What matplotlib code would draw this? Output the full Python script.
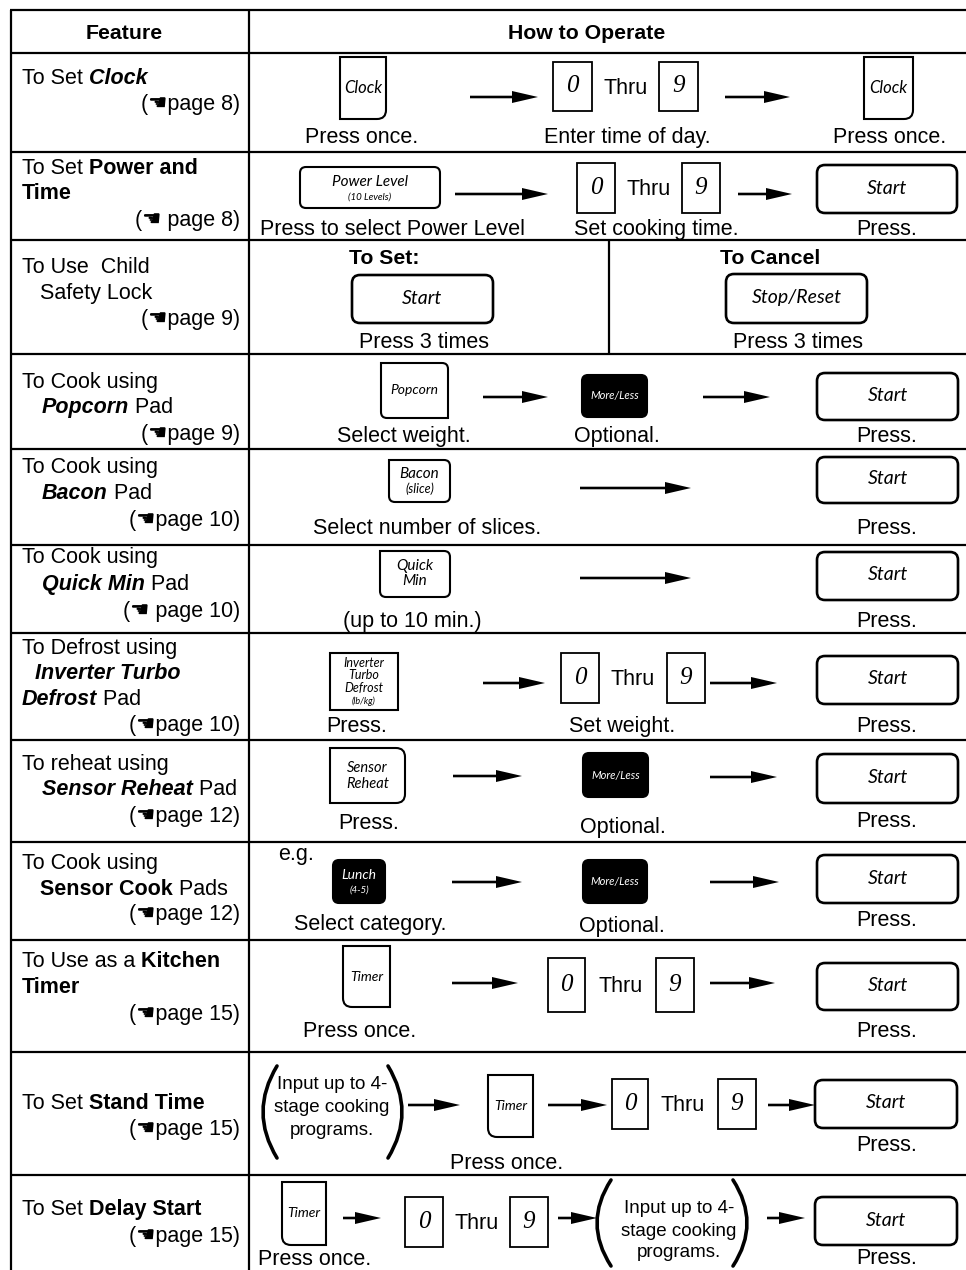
import matplotlib
matplotlib.use('Agg')
import matplotlib.pyplot as plt
from matplotlib.patches import PathPatch
from matplotlib.path import Path

plt.rcParams['font.family'] = ['Liberation Sans', 'DejaVu Sans']

# ---- table content ----
HEADERS = ['Feature', 'How to Operate']

# each feature: lines, each line a list of (text, style) pieces; b = bold, i = italic
FEATURES = [
    [[('To Set', ''), (' Clock', 'bi')]],
    [[('To Set', ''), (' Power and', 'b')], [('Time', 'b')]],
    [[('To Use  Child', '')], [('Safety Lock', '')]],
    [[('To Cook using', '')], [('Popcorn', 'bi'), (' Pad', '')]],
    [[('To Cook using', '')], [('Bacon', 'bi'), (' Pad', '')]],
    [[('To Cook using', '')], [('Quick Min', 'bi'), (' Pad', '')]],
    [[('To Defrost using', '')], [('Inverter Turbo', 'bi')], [('Defrost', 'bi'), (' Pad', '')]],
    [[('To reheat using', '')], [('Sensor Reheat', 'bi'), (' Pad', '')]],
    [[('To Cook using', '')], [('Sensor Cook', 'b'), (' Pads', '')]],
    [[('To Use as a', ''), (' Kitchen', 'b')], [('Timer', 'b')]],
    [[('To Set', ''), (' Stand Time', 'b')]],
    [[('To Set', ''), (' Delay Start', 'b')]],
]
PAGES = ['page 8', ' page 8', 'page 9', 'page 9', 'page 10', ' page 10',
         'page 10', 'page 12', 'page 12', 'page 15', 'page 15', 'page 15']
HAND = '\u261a'

DIGITS = ['0', '9']
THRU = 'Thru'
START = 'Start'
MORE_LESS = 'More/Less'
CLOCK = 'Clock'
TIMER = 'Timer'
POWER = ['Power Level', '(10 Levels)']
POPCORN = 'Popcorn'
BACON = ['Bacon', '(slice)']
QUICK = ['Quick', 'Min']
DEFROST = ['Inverter', 'Turbo', 'Defrost', '(lb/kg)']
REHEAT = ['Sensor', 'Reheat']
LUNCH = ['Lunch', '(4-5)']
STOP = 'Stop/Reset'
PROGRAMS = ['Input up to 4-', 'stage cooking', 'programs.']

CAPTIONS = {
    'clock': ['Press once.', 'Enter time of day.', 'Press once.'],
    'power': ['Press to select Power Level', 'Set cooking time.', 'Press.'],
    'lock': ['To Set:', 'Press 3 times', 'To Cancel', 'Press 3 times'],
    'popcorn': ['Select weight.', 'Optional.', 'Press.'],
    'bacon': ['Select number of slices.', 'Press.'],
    'quick': ['(up to 10 min.)', 'Press.'],
    'defrost': ['Press.', 'Set weight.', 'Press.'],
    'reheat': ['Press.', 'Optional.', 'Press.'],
    'sensor': ['e.g.', 'Select category.', 'Optional.', 'Press.'],
    'timer': ['Press once.', 'Press.'],
    'stand': ['Press once.', 'Press.'],
    'delay': ['Press once.', 'Press.'],
}

# ---- layout (pixels, y down) ----
W, H = 966, 1270
ROW_EDGES = [53, 152, 240, 354, 449, 545, 633, 740, 842, 940, 1052, 1175]
FEATURE_Y = [[77], [167, 192], [266, 292], [381, 406], [466, 492], [556, 583],
             [647, 672, 698], [763, 788], [862, 888], [960, 986], [1102], [1208]]
FEATURE_X = [[22], [22, 22], [22, 40], [22, 42], [22, 42], [22, 42],
             [22, 35, 22], [22, 42], [22, 40], [22, 22], [22], [22]]
PAGE_Y = [103, 219, 318, 433, 519, 610, 724, 815, 913, 1013, 1128, 1235]

BODY = 15.5
KEYFONT = 'Lato'
LW = 1.5

fig = plt.figure(figsize=(W / 100, H / 100), dpi=100)
ax = fig.add_axes([0, 0, 1, 1])
ax.set_xlim(0, W)
ax.set_ylim(H, 0)
ax.axis('off')


def txt(x, y, s, ha='center', size=BODY, weight='normal'):
    ax.text(x, y + 7, s, ha=ha, va='baseline', fontsize=size, fontweight=weight)


def rich(x, y, parts, size=BODY):
    t = None
    for s, style in parts:
        kw = dict(fontsize=size, fontweight='bold' if 'b' in style else 'normal',
                  fontstyle='italic' if 'i' in style else 'normal')
        if t is None:
            t = ax.text(x, y + 7, s, ha='left', va='baseline', **kw)
        else:
            t = ax.annotate(s, xy=(1, 0), xycoords=t, ha='left', va='bottom', **kw)


def key_path(x0, y0, x1, y1, r, corners):
    tl, tr, br, bl = [c in corners for c in ('tl', 'tr', 'br', 'bl')]
    v, c = [(x0 + (r if tl else 0), y0)], [Path.MOVETO]
    v.append((x1 - (r if tr else 0), y0)); c.append(Path.LINETO)
    if tr:
        v += [(x1, y0), (x1, y0 + r)]; c += [Path.CURVE3] * 2
    v.append((x1, y1 - (r if br else 0))); c.append(Path.LINETO)
    if br:
        v += [(x1, y1), (x1 - r, y1)]; c += [Path.CURVE3] * 2
    v.append((x0 + (r if bl else 0), y1)); c.append(Path.LINETO)
    if bl:
        v += [(x0, y1), (x0, y1 - r)]; c += [Path.CURVE3] * 2
    v.append((x0, y0 + (r if tl else 0))); c.append(Path.LINETO)
    if tl:
        v += [(x0, y0), (x0 + r, y0)]; c += [Path.CURVE3] * 2
    v.append((0, 0)); c.append(Path.CLOSEPOLY)
    return Path(v, c)


def key(x0, y0, x1, y1, lines, corners='tl tr br bl', r=7, dark=False, lw=LW):
    fc = 'black' if dark else 'white'
    ax.add_patch(PathPatch(key_path(x0, y0, x1, y1, r, corners), fc=fc, ec='black', lw=lw))
    cx = (x0 + x1) / 2
    for s, size, y in lines:
        ax.text(cx, y, s, ha='center', va='center', fontsize=size, family=KEYFONT,
                style='italic', color='white' if dark else 'black')


def start_key(x0, y0, x1, y1, label=START):
    key(x0, y0, x1, y1, [(label, 14, (y0 + y1) / 2 - 1)], r=8, lw=1.9)


def more_less(x0, y0, x1, y1):
    key(x0, y0, x1, y1, [(MORE_LESS, 8, (y0 + y1) / 2)], r=6, dark=True)


def arrow(x0, x1, y):
    ax.arrow(x0, y, x1 - x0, 0, width=2.6, head_width=12, head_length=26,
             length_includes_head=True, fc='black', ec='black', lw=0)


def digits(a0, a1, b0, b1, y0, y1):
    for (x0, x1), d in zip([(a0, a1), (b0, b1)], DIGITS):
        key(x0, y0, x1, y1, [(d, 18, (y0 + y1) / 2)], corners='', r=0, lw=1.3)
        ax.texts[-1].set_family('Liberation Serif')
    txt((a1 + b0) / 2, (y0 + y1) / 2, THRU)


def paren(xa, xb, y0, y1):
    # xa: x at the ends, xb: x at the middle
    ym = (y0 + y1) / 2
    ctrl = 2 * xb - xa
    p = Path([(xa, y0), (ctrl, ym), (xa, y1)], [Path.MOVETO, Path.CURVE3, Path.CURVE3])
    ax.add_patch(PathPatch(p, fc='none', ec='black', lw=2.6, capstyle='round'))


def programs(x_l, x_r, y0, y1, cx, ys):
    paren(x_l + 14, x_l, y0, y1)
    paren(x_r - 14, x_r, y0, y1)
    for s, y in zip(PROGRAMS, ys):
        txt(cx, y, s, size=13.5)


# ---- grid ----
lk = dict(color='black', lw=1.6, solid_capstyle='butt')
ax.plot([10, W], [10, 10], **lk)
for y in ROW_EDGES:
    ax.plot([10, W], [y, y], **lk)
ax.plot([11, 11], [10, H], **lk)
ax.plot([249, 249], [10, H], **lk)
ax.plot([609, 609], [240, 354], **lk)

txt(124, 32, HEADERS[0], size=15.3, weight='bold')
txt(587, 32, HEADERS[1], size=15.3, weight='bold')

# ---- feature column ----
for lines, xs, ys, page, py in zip(FEATURES, FEATURE_X, FEATURE_Y, PAGES, PAGE_Y):
    for parts, x, y in zip(lines, xs, ys):
        rich(x, y, parts)
    txt(240, py, '(' + HAND + page + ')', ha='right')

# ---- how to operate ----
# clock
cap = CAPTIONS['clock']
key(340, 57, 386, 119, [(CLOCK, 12, 88)], corners='br', r=9)
arrow(470, 538, 97)
digits(553, 592, 659, 698, 62, 111)
arrow(725, 790, 97)
key(864, 57, 913, 119, [(CLOCK, 12, 88)], corners='br', r=9)
for x, s in zip([362, 627, 890], cap):
    txt(x, 136, s)

# power and time
cap = CAPTIONS['power']
key(300, 167, 440, 208, [(POWER[0], 11, 182), (POWER[1], 7, 197)], r=6)
arrow(455, 548, 194)
digits(577, 615, 682, 720, 163, 213)
arrow(738, 792, 194)
start_key(817, 165, 957, 213)
for x, s in zip([393, 656, 887], cap):
    txt(x, 228, s)

# child safety lock
cap = CAPTIONS['lock']
txt(384, 257, cap[0], size=15.3, weight='bold')
start_key(352, 275, 493, 323)
txt(424, 341, cap[1])
txt(770, 257, cap[2], size=15.3, weight='bold')
start_key(726, 274, 867, 323, STOP)
txt(798, 341, cap[3])

# popcorn
cap = CAPTIONS['popcorn']
key(381, 363, 448, 418, [(POPCORN, 10, 390)], corners='tr bl', r=6)
arrow(483, 548, 397)
more_less(582, 375, 647, 417)
arrow(703, 770, 397)
start_key(817, 373, 958, 420)
for x, s in zip([404, 617, 887], cap):
    txt(x, 435, s)

# bacon
cap = CAPTIONS['bacon']
key(389, 460, 450, 502, [(BACON[0], 11, 474), (BACON[1], 9, 489)], corners='tr br bl', r=6)
arrow(580, 691, 488)
start_key(817, 457, 958, 503)
txt(427, 527, cap[0])
txt(887, 527, cap[1])

# quick min
cap = CAPTIONS['quick']
key(380, 551, 450, 597, [(QUICK[0], 11, 566), (QUICK[1], 11, 581)], corners='tr br bl', r=6)
arrow(580, 691, 578)
start_key(817, 552, 958, 600)
txt(412, 620, cap[0])
txt(887, 620, cap[1])

# defrost
cap = CAPTIONS['defrost']
key(330, 653, 398, 710, [(DEFROST[0], 9, 663), (DEFROST[1], 9, 675),
                         (DEFROST[2], 9, 688), (DEFROST[3], 6.5, 701)], corners='', r=0)
arrow(483, 545, 683)
digits(561, 599, 667, 705, 653, 703)
arrow(710, 777, 683)
start_key(817, 656, 958, 704)
for x, s in zip([357, 622, 887], cap):
    txt(x, 725, s)

# sensor reheat
cap = CAPTIONS['reheat']
key(330, 748, 405, 803, [(REHEAT[0], 10.5, 768), (REHEAT[1], 10.5, 784)], corners='tr br', r=9)
arrow(453, 522, 776)
more_less(583, 753, 648, 797)
arrow(710, 777, 777)
start_key(817, 754, 958, 803)
txt(369, 822, cap[0])
txt(623, 826, cap[1])
txt(887, 820, cap[2])

# sensor cook
cap = CAPTIONS['sensor']
txt(296, 853, cap[0])
key(333, 860, 385, 903, [(LUNCH[0], 10, 875), (LUNCH[1], 7, 890)], r=6, dark=True)
arrow(452, 522, 882)
more_less(583, 860, 647, 903)
arrow(710, 779, 882)
start_key(817, 855, 958, 903)
txt(370, 923, cap[1])
txt(622, 925, cap[2])
txt(887, 919, cap[3])

# kitchen timer
cap = CAPTIONS['timer']
key(343, 946, 390, 1007, [(TIMER, 10, 977)], corners='bl', r=9)
arrow(452, 518, 983)
digits(548, 585, 656, 694, 958, 1012)
arrow(710, 775, 983)
start_key(817, 963, 958, 1010)
txt(360, 1030, cap[0])
txt(887, 1030, cap[1])

# stand time
cap = CAPTIONS['stand']
programs(263, 402, 1066, 1158, 332, [1082, 1105, 1128])
arrow(408, 460, 1105)
key(488, 1075, 533, 1137, [(TIMER, 10, 1106)], corners='bl', r=9)
arrow(548, 607, 1105)
digits(612, 648, 718, 756, 1079, 1129)
arrow(768, 815, 1105)
start_key(815, 1080, 957, 1128)
txt(507, 1162, cap[0])
txt(887, 1144, cap[1])

# delay start
cap = CAPTIONS['delay']
key(282, 1182, 326, 1245, [(TIMER, 10, 1213)], corners='bl', r=9)
arrow(343, 381, 1218)
digits(405, 443, 510, 548, 1197, 1247)
arrow(558, 597, 1218)
programs(597, 747, 1180, 1266, 679, [1206, 1229, 1250])
arrow(767, 805, 1218)
start_key(815, 1197, 957, 1245)
txt(258, 1258, cap[0], ha='left')
txt(887, 1257, cap[1])

fig.savefig('out.png', dpi=100)
